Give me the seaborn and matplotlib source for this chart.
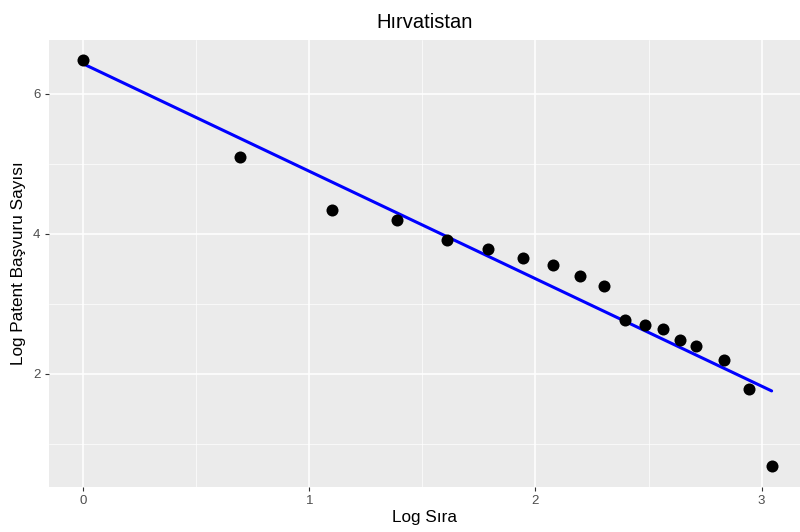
import numpy as np
import pandas as pd
import matplotlib
matplotlib.use("Agg")
import matplotlib.pyplot as plt
import seaborn as sns
from matplotlib.ticker import MultipleLocator

# Rank and application counts (log scale)
ranks = [1, 2, 3, 4, 5, 6, 7, 8, 9, 10, 11, 12, 13, 14, 15, 17, 19, 21]
log_counts = [6.49, 5.10, 4.34, 4.20, 3.91, 3.79, 3.66, 3.56, 3.40, 3.26,
              2.77, 2.70, 2.64, 2.49, 2.40, 2.20, 1.79, 0.69]

df = pd.DataFrame({"log_rank": np.log(ranks), "log_count": log_counts})

sns.set_theme(style="darkgrid", rc={
    "axes.facecolor": "#EBEBEB",
    "grid.color": "white",
    "axes.edgecolor": "#EBEBEB",
})
plt.rcParams["font.family"] = ["Liberation Sans", "DejaVu Sans"]

fig = plt.figure(figsize=(8.0, 5.32), dpi=100)
ax = fig.add_axes([48.7 / 800, 1 - 486.7 / 532, 751.3 / 800, 446.7 / 532])

sns.regplot(data=df, x="log_rank", y="log_count", ax=ax, ci=None,
            scatter_kws=dict(s=75, color="black", alpha=1, linewidths=0, zorder=3),
            line_kws=dict(color="blue", lw=2.2, zorder=2))

ax.set_xlim(-0.153, 3.170)
ax.set_ylim(0.39, 6.771)
ax.xaxis.set_major_locator(MultipleLocator(1))
ax.xaxis.set_minor_locator(MultipleLocator(0.5))
ax.yaxis.set_major_locator(MultipleLocator(2))
ax.yaxis.set_minor_locator(MultipleLocator(1))
ax.grid(which="major", color="white", lw=1.1)
ax.grid(which="minor", color="white", lw=0.5)
for s in ax.spines.values():
    s.set_visible(False)
ax.tick_params(which="major", length=3, width=0.8, color="#333333",
               labelsize=9.5, labelcolor="#4D4D4D", pad=3, bottom=True, left=True)
ax.tick_params(which="minor", length=0)

ax.set_xlabel("Log Sıra", fontsize=12.3, color="black", labelpad=2)
ax.set_ylabel("Log Patent Başvuru Sayısı", fontsize=12.3, color="black", labelpad=5)
ax.set_title("Hırvatistan", fontsize=14.5, color="black", pad=9)

fig.savefig("out.png", dpi=100)
